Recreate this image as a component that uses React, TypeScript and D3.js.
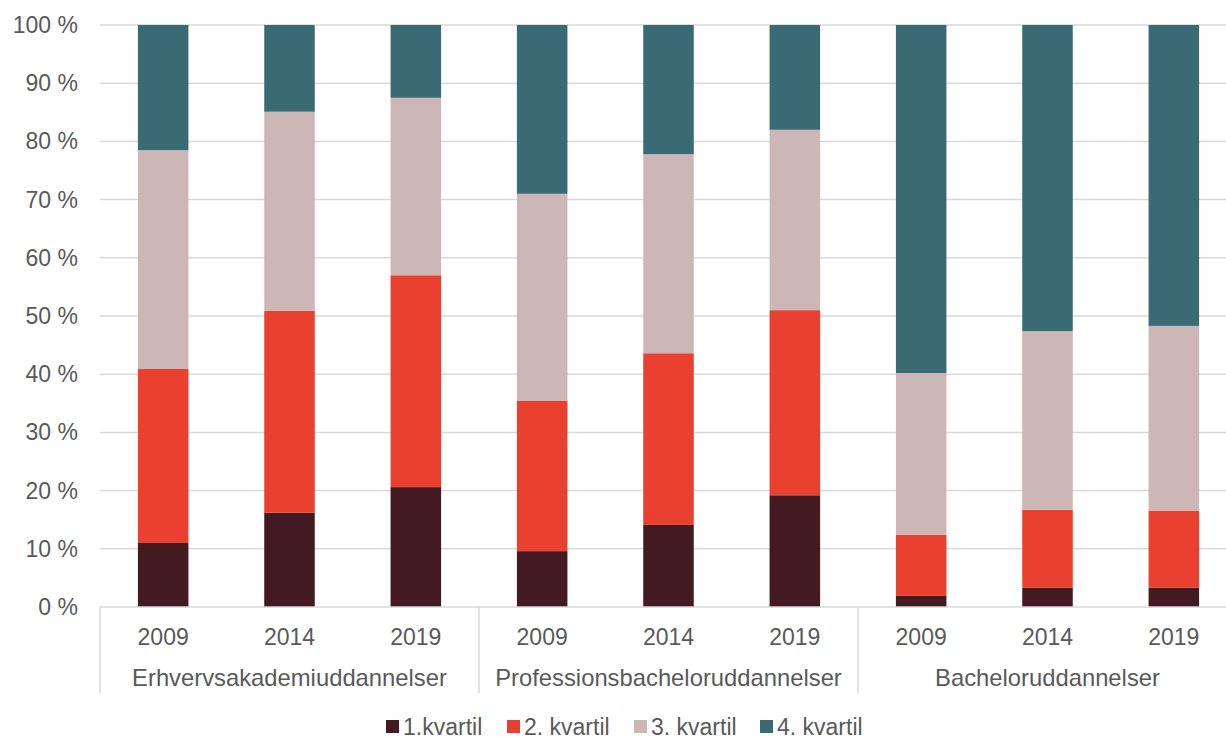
import React, { useEffect, useRef } from 'react';
import * as d3 from 'd3';

// Segment shares per bar (percent)
const groups = ['Erhvervsakademiuddannelser', 'Professionsbacheloruddannelser', 'Bacheloruddannelser'];
const years = ['2009', '2014', '2019'];
const quartiles = ['1.kvartil', '2. kvartil', '3. kvartil', '4. kvartil'];

const q1 = [11.0, 16.2, 20.6, 9.6, 14.1, 19.2, 1.9, 3.3, 3.3];
const q2 = [29.9, 34.7, 36.4, 25.8, 29.5, 31.8, 10.5, 13.4, 13.2];
const q3 = [37.6, 34.2, 30.5, 35.6, 34.2, 31.0, 27.8, 30.7, 31.8];
const q4 = [21.5, 14.9, 12.5, 29.0, 22.2, 18.0, 59.8, 52.6, 51.7];

const yTicks = [0, 10, 20, 30, 40, 50, 60, 70, 80, 90, 100];
const colors = ['#431a22', '#e94030', '#ccb6b6', '#3a6a74'];

const W = 1226;
const H = 737;
const FONT = '"Liberation Sans", Arial, sans-serif';

export default function App() {
  const svgRef = useRef<SVGSVGElement>(null);

  useEffect(() => {
    if (!svgRef.current) return;
    const svg = d3.select(svgRef.current);
    svg.selectAll('*').remove();

    const left = 100;
    const right = 1237;
    const top = 25;
    const bottom = 607;

    const rows = q1.map((_, i) => ({
      key: `${i}`,
      group: groups[Math.floor(i / 3)],
      year: years[i % 3],
      '1.kvartil': q1[i],
      '2. kvartil': q2[i],
      '3. kvartil': q3[i],
      '4. kvartil': q4[i],
    }));

    const x = d3.scaleBand<string>()
      .domain(rows.map(d => d.key))
      .range([left, right])
      .paddingInner(0.6)
      .paddingOuter(0.3);

    const y = d3.scaleLinear().domain([0, 100]).range([bottom, top]);

    // grid
    svg.append('g')
      .selectAll('line')
      .data(yTicks.filter(t => t > 0))
      .enter()
      .append('line')
      .attr('x1', left)
      .attr('x2', W)
      .attr('y1', d => y(d))
      .attr('y2', d => y(d))
      .attr('stroke', '#d9d9d9')
      .attr('stroke-width', 1.5);

    // y labels
    svg.append('g')
      .selectAll('text')
      .data(yTicks)
      .enter()
      .append('text')
      .attr('x', 78)
      .attr('y', d => y(d))
      .attr('dy', '0.35em')
      .attr('text-anchor', 'end')
      .attr('fill', '#595959')
      .attr('font-size', 23)
      .attr('font-family', FONT)
      .text(d => `${d} %`);

    // stacked bars
    const stack = d3.stack<any>().keys(quartiles);
    const series = stack(rows);

    svg.append('g')
      .selectAll('g')
      .data(series)
      .enter()
      .append('g')
      .attr('fill', (_, i) => colors[i])
      .selectAll('rect')
      .data(d => d)
      .enter()
      .append('rect')
      .attr('x', d => x(d.data.key)!)
      .attr('width', x.bandwidth())
      .attr('y', d => y(d[1]))
      .attr('height', d => y(d[0]) - y(d[1]));

    // x axis line
    svg.append('line')
      .attr('x1', left)
      .attr('x2', W)
      .attr('y1', bottom)
      .attr('y2', bottom)
      .attr('stroke', '#d9d9d9')
      .attr('stroke-width', 1.5);

    // group separators
    const step = x.step();
    const groupEdges = d3.range(groups.length + 1).map(g => left + g * 3 * step);
    svg.append('g')
      .selectAll('line')
      .data(groupEdges)
      .enter()
      .append('line')
      .attr('x1', d => d)
      .attr('x2', d => d)
      .attr('y1', bottom)
      .attr('y2', 693)
      .attr('stroke', '#d9d9d9')
      .attr('stroke-width', 1.5);

    // year labels
    svg.append('g')
      .selectAll('text')
      .data(rows)
      .enter()
      .append('text')
      .attr('x', d => x(d.key)! + x.bandwidth() / 2)
      .attr('y', 637)
      .attr('dy', '0.35em')
      .attr('text-anchor', 'middle')
      .attr('fill', '#595959')
      .attr('font-size', 23)
      .attr('font-family', FONT)
      .text(d => d.year);

    // group labels
    svg.append('g')
      .selectAll('text')
      .data(groups)
      .enter()
      .append('text')
      .attr('x', (_, i) => (groupEdges[i] + groupEdges[i + 1]) / 2)
      .attr('y', 678)
      .attr('dy', '0.35em')
      .attr('text-anchor', 'middle')
      .attr('fill', '#595959')
      .attr('font-size', 23.8)
      .attr('font-family', FONT)
      .text(d => d);

    // legend
    const legendX = [386, 507, 634, 760];
    const legend = svg.append('g');
    quartiles.forEach((q, i) => {
      legend.append('rect')
        .attr('x', legendX[i])
        .attr('y', 720)
        .attr('width', 13)
        .attr('height', 13)
        .attr('fill', colors[i]);
      legend.append('text')
        .attr('x', legendX[i] + 17)
        .attr('y', 727)
        .attr('dy', '0.35em')
        .attr('fill', '#595959')
        .attr('font-size', 23)
        .attr('font-family', FONT)
        .text(q);
    });
  }, []);

  return (
    <div style={{ position: 'absolute', left: 0, top: 0, width: W, height: H, background: '#fff', overflow: 'hidden' }}>
      <svg ref={svgRef} width={W} height={H} />
    </div>
  );
}
